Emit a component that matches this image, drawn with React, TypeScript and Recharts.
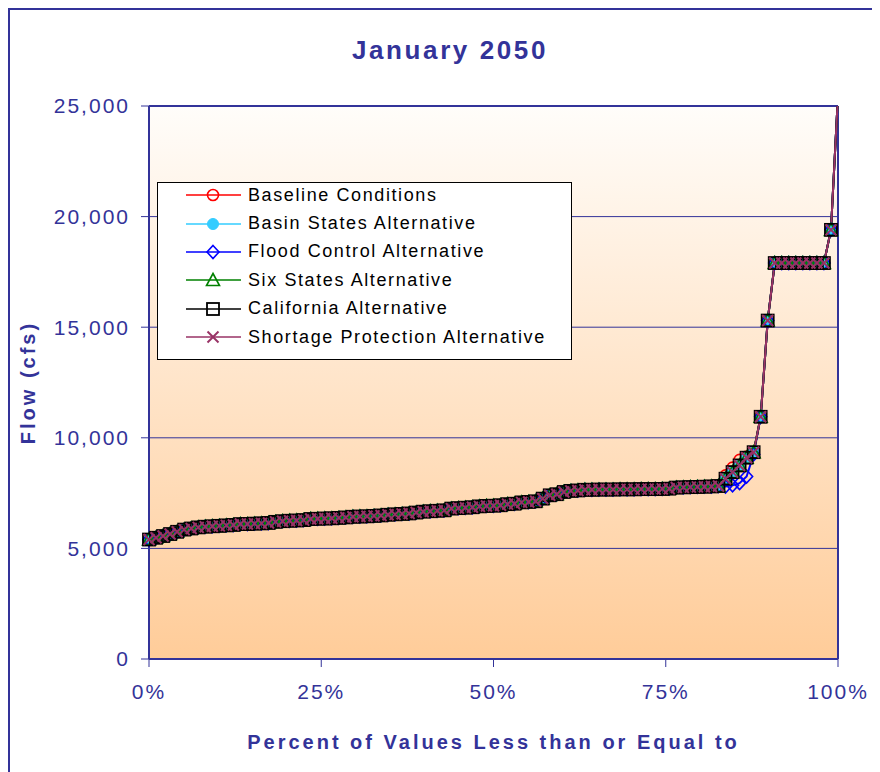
import React from 'react';
import {
  LineChart,
  Line,
  XAxis,
  YAxis,
  CartesianGrid,
  ReferenceLine,
  Legend,
  Label,
} from 'recharts';

// ---- Data (cfs), sorted exceedance values ----
const californiaFlow: number[] = [
  5400, 5480, 5560, 5650, 5750, 5850, 5900, 5950, 5980, 6000,
  6020, 6040, 6060, 6100, 6100, 6120, 6130, 6150, 6200, 6230,
  6250, 6260, 6280, 6330, 6340, 6350, 6360, 6380, 6400, 6430,
  6440, 6450, 6470, 6490, 6520, 6540, 6560, 6580, 6620, 6660,
  6680, 6700, 6720, 6800, 6820, 6840, 6860, 6900, 6920, 6930,
  6950, 7000, 7020, 7080, 7100, 7130, 7250, 7400, 7450, 7550,
  7600, 7620, 7650, 7650, 7660, 7660, 7660, 7670, 7670, 7670,
  7680, 7680, 7680, 7690, 7700, 7750, 7760, 7770, 7780, 7790,
  7800, 7820, 8150, 8450, 8750, 9100, 9350, 10950, 15300, 17900,
  17900, 17900, 17900, 17900, 17900, 17900, 17900, 19400, 25500,
];

const basinStatesFlow: number[] = [...californiaFlow];
const sixStatesFlow: number[] = [...californiaFlow];
const shortageFlow: number[] = [...californiaFlow];

const baselineFlow: number[] = [
  ...californiaFlow.slice(0, 82),
  8300, 8650, 9000, 9150, 9350,
  ...californiaFlow.slice(87),
];

const floodControlFlow: number[] = [
  ...californiaFlow.slice(0, 82),
  7800, 7850, 7950, 8250, 9250,
  ...californiaFlow.slice(87),
];

const yTicks = [0, 5000, 10000, 15000, 20000, 25000];
const xTicks = [0, 25, 50, 75, 100];

const N = californiaFlow.length;
const data = californiaFlow.map((v, i) => ({
  pct: (i / (N - 1)) * 100,
  baseline: baselineFlow[i],
  basin: basinStatesFlow[i],
  flood: floodControlFlow[i],
  six: sixStatesFlow[i],
  california: v,
  shortage: shortageFlow[i],
}));

type Shape = 'circle' | 'filled' | 'diamond' | 'triangle' | 'square' | 'cross';

const series: { key: string; name: string; color: string; shape: Shape }[] = [
  { key: 'baseline', name: 'Baseline Conditions', color: '#ff0000', shape: 'circle' },
  { key: 'basin', name: 'Basin States Alternative', color: '#33ccff', shape: 'filled' },
  { key: 'flood', name: 'Flood Control Alternative', color: '#0000ff', shape: 'diamond' },
  { key: 'six', name: 'Six States Alternative', color: '#008000', shape: 'triangle' },
  { key: 'california', name: 'California Alternative', color: '#000000', shape: 'square' },
  { key: 'shortage', name: 'Shortage Protection Alternative', color: '#993366', shape: 'cross' },
];

const NAVY = '#333399';
const FONT = '"Liberation Sans", Arial, Helvetica, sans-serif';

function MarkerShape({ shape, color, cx, cy }: { shape: Shape; color: string; cx: number; cy: number }) {
  const sw = 1.6;
  switch (shape) {
    case 'circle':
      return <circle cx={cx} cy={cy} r={5.5} fill="none" stroke={color} strokeWidth={sw} />;
    case 'filled':
      return <circle cx={cx} cy={cy} r={5.5} fill={color} stroke={color} strokeWidth={1} />;
    case 'diamond':
      return (
        <polygon
          points={`${cx},${cy - 6.5} ${cx + 6},${cy} ${cx},${cy + 6.5} ${cx - 6},${cy}`}
          fill="none"
          stroke={color}
          strokeWidth={sw}
        />
      );
    case 'triangle':
      return (
        <polygon
          points={`${cx},${cy - 6.5} ${cx + 6.5},${cy + 5.5} ${cx - 6.5},${cy + 5.5}`}
          fill="none"
          stroke={color}
          strokeWidth={sw}
        />
      );
    case 'square':
      return <rect x={cx - 6} y={cy - 6} width={12} height={12} fill="none" stroke={color} strokeWidth={1.8} />;
    case 'cross':
    default:
      return (
        <g stroke={color} strokeWidth={2}>
          <line x1={cx - 5.5} y1={cy - 5.5} x2={cx + 5.5} y2={cy + 5.5} />
          <line x1={cx - 5.5} y1={cy + 5.5} x2={cx + 5.5} y2={cy - 5.5} />
        </g>
      );
  }
}

const makeDot = (shape: Shape, color: string) => (props: any) => {
  const { cx, cy, index } = props;
  if (cx == null || cy == null || isNaN(cx) || isNaN(cy)) return <g key={`d-${index}`} />;
  return (
    <g key={`d-${index}`}>
      <MarkerShape shape={shape} color={color} cx={cx} cy={cy} />
    </g>
  );
};

const renderLegend = () => (
  <div
    style={{
      width: 415,
      height: 178,
      boxSizing: 'border-box',
      border: '1px solid #000',
      background: '#fff',
      paddingTop: 0,
      fontFamily: FONT,
    }}
  >
    {series.map((s) => (
      <div
        key={s.key}
        style={{ display: 'flex', alignItems: 'center', height: 28.4, marginLeft: 28, marginTop: s.key === 'baseline' ? -2 : 0 }}
      >
        <svg width={60} height={20} style={{ display: 'block' }}>
          <line x1={0} y1={10} x2={55} y2={10} stroke={s.color} strokeWidth={1.6} />
          <MarkerShape shape={s.shape} color={s.color} cx={27} cy={10} />
        </svg>
        <span style={{ fontSize: 18, letterSpacing: 1.6, color: '#000', marginLeft: 2, whiteSpace: 'nowrap' }}>
          {s.name}
        </span>
      </div>
    ))}
  </div>
);

export default function App() {
  return (
    <div
      style={{
        position: 'relative',
        width: 872,
        height: 762,
        borderTop: `2px solid ${NAVY}`,
        borderLeft: `2px solid ${NAVY}`,
        background: '#fff',
        fontFamily: FONT,
        overflow: 'hidden',
      }}
    >
      <div
        style={{
          position: 'absolute',
          left: 0,
          top: 24,
          width: 880,
          textAlign: 'center',
          fontSize: 26,
          fontWeight: 'bold',
          letterSpacing: 2.6,
          lineHeight: '32px',
          color: NAVY,
          zIndex: 2,
        }}
      >
        January 2050
      </div>
      <LineChart
        width={870}
        height={760}
        data={data}
        margin={{ top: 96, right: 42, bottom: 0, left: 0 }}
      >
        <defs>
          <linearGradient id="plotBg" x1="0" y1="0" x2="0" y2="1">
            <stop offset="0%" stopColor="#fffdfa" />
            <stop offset="100%" stopColor="#ffcc99" />
          </linearGradient>
        </defs>
        <CartesianGrid
          vertical={false}
          stroke={NAVY}
          strokeWidth={1}
          fill="url(#plotBg)"
          fillOpacity={1}
        />
        <XAxis
          type="number"
          dataKey="pct"
          domain={[0, 100]}
          ticks={xTicks}
          tickFormatter={(v: number) => `${v}%`}
          interval={0}
          height={111}
          axisLine={{ stroke: NAVY, strokeWidth: 2 }}
          tickLine={{ stroke: NAVY, strokeWidth: 1 }}
          tickSize={8}
          tickMargin={17}
          tick={{ fill: NAVY, fontSize: 21, letterSpacing: 2, fontFamily: FONT }}
        >
          <Label
            content={(props: any) => {
              const vb = props.viewBox || {};
              return (
                <text
                  x={vb.x + vb.width / 2}
                  y={vb.y + 83}
                  textAnchor="middle"
                  dominantBaseline="central"
                  fill={NAVY}
                  fontSize={20}
                  fontWeight="bold"
                  letterSpacing={3}
                  fontFamily={FONT}
                >
                  Percent of Values Less than or Equal to
                </text>
              );
            }}
          />
        </XAxis>
        <YAxis
          type="number"
          domain={[0, 25000]}
          allowDataOverflow
          ticks={yTicks}
          interval={0}
          width={139}
          tickFormatter={(v: number) => v.toLocaleString('en-US')}
          axisLine={{ stroke: NAVY, strokeWidth: 2 }}
          tickLine={{ stroke: NAVY, strokeWidth: 1 }}
          tickSize={8}
          tickMargin={11}
          tick={{ fill: NAVY, fontSize: 21, letterSpacing: 2, fontFamily: FONT }}
        >
          <Label
            content={(props: any) => {
              const vb = props.viewBox || {};
              const cx = vb.x + 18;
              const cy = vb.y + vb.height / 2;
              return (
                <text
                  x={cx}
                  y={cy}
                  transform={`rotate(-90 ${cx} ${cy})`}
                  textAnchor="middle"
                  dominantBaseline="central"
                  fill={NAVY}
                  fontSize={20}
                  fontWeight="bold"
                  letterSpacing={3}
                  fontFamily={FONT}
                >
                  Flow (cfs)
                </text>
              );
            }}
          />
        </YAxis>
        <ReferenceLine y={25000} stroke={NAVY} strokeWidth={2} />
        <ReferenceLine x={100} stroke={NAVY} strokeWidth={2} />
        {series.map((s) => (
          <Line
            key={s.key}
            type="linear"
            dataKey={s.key}
            name={s.name}
            stroke={s.color}
            strokeWidth={2}
            dot={makeDot(s.shape, s.color)}
            activeDot={false}
            isAnimationActive={false}
          />
        ))}
        <Legend
          layout="horizontal"
          verticalAlign="middle"
          align="center"
          content={renderLegend}
          wrapperStyle={{ position: 'absolute', left: 147, top: 172, width: 415, height: 178 }}
        />
      </LineChart>
    </div>
  );
}
